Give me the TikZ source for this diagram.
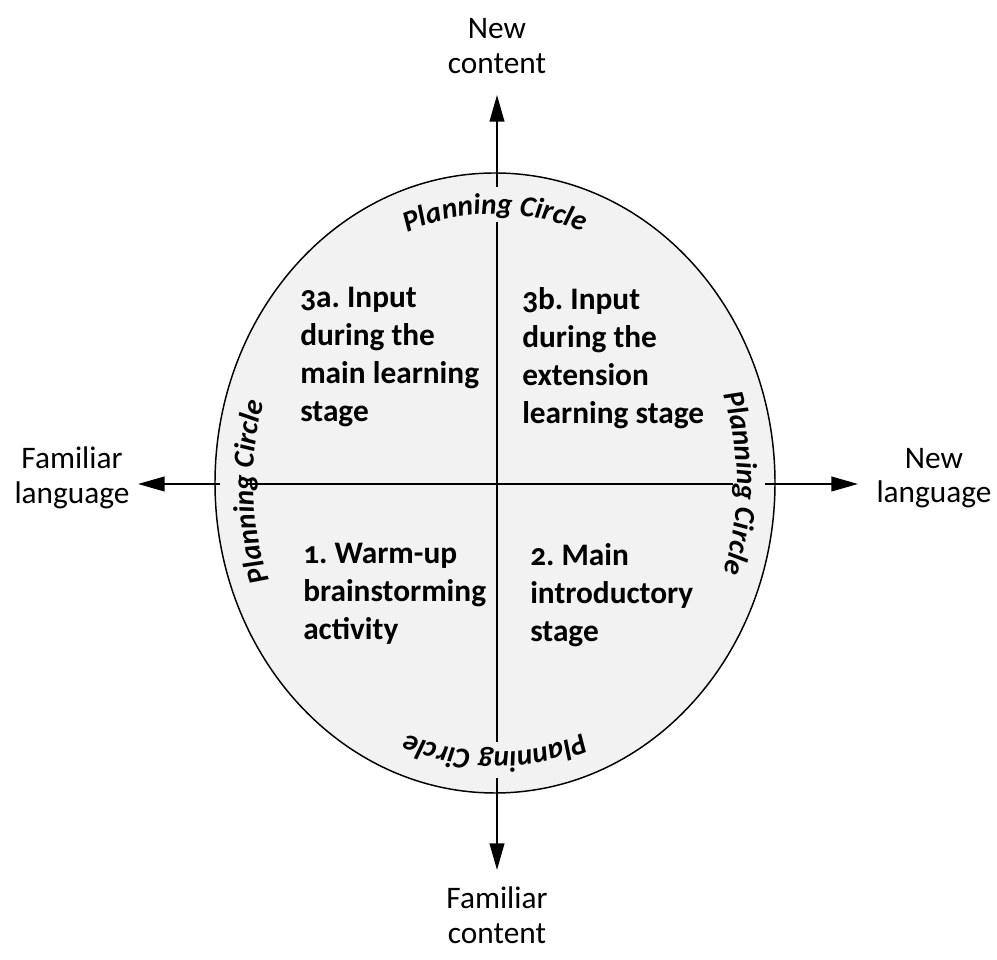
\documentclass[tikz,border=0pt]{standalone}
\usepackage{fontspec}
\setmainfont{Carlito}
\newfontfamily\stagefont[Numbers=OldStyle]{Carlito}
\usetikzlibrary{arrows.meta,decorations.text}
\newcommand\ringfont{\fontsize{22}{26}\selectfont\bfseries\itshape}
\frenchspacing
\begin{document}
\begin{tikzpicture}[x=0.75pt,y=0.75pt,
  rim/.style={line width=1.1pt, fill=black!5},
  axis/.style={line width=1.5pt},
  tip/.style={axis, -{Triangle[length=20pt,width=11pt]}},
  ringtext/.style={decorate, decoration={text along path, text align=center,
      text={|\ringfont|Planning Circle}}},
  pole/.style={font=\fontsize{23.5}{26}\selectfont, align=center, inner sep=0pt},
  stage/.style={font=\stagefont\fontsize{23.5}{28.5}\selectfont\bfseries\frenchspacing,
      align=left, anchor=north west, inner sep=0pt}]
\useasboundingbox (0,0) rectangle (997,960);

% centre of the planning circle and the ends of the four axes
\coordinate (C) at (495,477);
\coordinate (topTip) at (497,865);
\coordinate (topOut) at (497,773);
\coordinate (topIn) at (497,738);
\coordinate (botIn) at (497,218);
\coordinate (botOut) at (497,182);
\coordinate (botTip) at (497,90);
\coordinate (leftTip) at (138,476);
\coordinate (leftOut) at (220,476);
\coordinate (leftIn) at (248,476);
\coordinate (rightIn) at (733,476);
\coordinate (rightOut) at (765,476);
\coordinate (rightTip) at (858,476);

% the planning circle
\draw[rim] (C) ellipse[x radius=280, y radius=310];

% axes, broken where the ring label crosses them
\draw[axis] (topIn) -- (botIn);
\draw[axis] (leftIn) -- (rightIn);
\draw[tip] (topOut) -- (topTip);
\draw[tip] (botOut) -- (botTip);
\draw[tip] (leftOut) -- (leftTip);
\draw[tip] (rightOut) -- (rightTip);

% ring labels, running clockwise just inside the rim
\path[ringtext, shift={(C)}] (135:242 and 269)
  arc[start angle=135, end angle=45, x radius=242, y radius=269];
\path[ringtext, shift={(C)}] (45:242 and 269)
  arc[start angle=45, end angle=-45, x radius=242, y radius=269];
\path[ringtext, shift={(C)}] (-45:242 and 269)
  arc[start angle=-45, end angle=-135, x radius=242, y radius=269];
\path[ringtext, shift={(C)}] (227:242 and 269)
  arc[start angle=227, end angle=137, x radius=242, y radius=269];

% axis end labels
\node[pole] (newContent) at (497,914) {New\\content};
\node[pole] (famContent) at (497,45) {Familiar\\content};
\node[pole] (famLang) at (72,482) {Familiar\\language};
\node[pole] (newLang) at (934,482) {New\\language};

% the four stages
\node[stage] (s3a) at (300,673) {3a. Input\\during the\\main learning\\stage};
\node[stage] (s3b) at (522,673) {3b. Input\\during the\\extension\\learning stage};
\node[stage] (s1) at (303,417) {1. Warm-up\\brainstorming\\activity};
\node[stage] (s2) at (530,417) {2. Main\\introductory\\stage};
\end{tikzpicture}
\end{document}
